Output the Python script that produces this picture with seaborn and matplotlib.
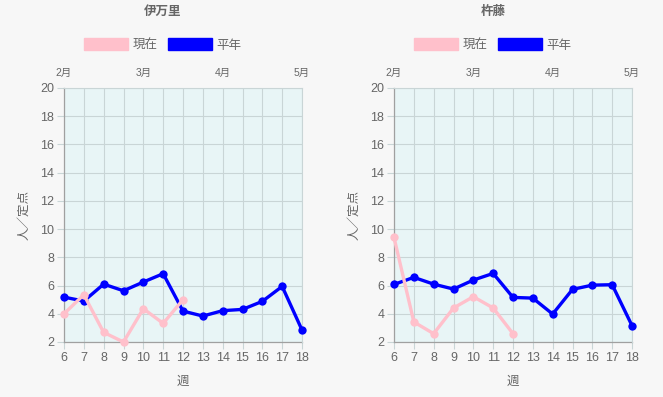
import pandas as pd
import seaborn as sns
import matplotlib.pyplot as plt
from matplotlib.patches import Patch

# Data
weeks = [6, 7, 8, 9, 10, 11, 12, 13, 14, 15, 16, 17, 18]
month_ticks = [6, 10, 14, 18]
month_labels = ['2月', '3月', '4月', '5月']
regions = ['伊万里', '杵藤']

imari_now = [4.0, 5.35, 2.68, 2.0, 4.36, 3.32, 5.0]
imari_avg = [5.18, 4.90, 6.10, 5.63, 6.25, 6.84, 4.19, 3.84, 4.22, 4.31, 4.88, 5.94, 2.85]
kitou_now = [9.41, 3.42, 2.59, 4.41, 5.21, 4.41, 2.59]
kitou_avg = [6.08, 6.58, 6.10, 5.75, 6.39, 6.86, 5.16, 5.11, 3.98, 5.73, 6.03, 6.06, 3.16]

series = {
    '伊万里': {'現在': imari_now, '平年': imari_avg},
    '杵藤': {'現在': kitou_now, '平年': kitou_avg},
}
colors = {'現在': '#ffc0cb', '平年': '#0000ff'}

sns.set_style('white')
plt.rcParams['font.family'] = ['Liberation Sans', 'Noto Sans CJK JP', 'DejaVu Sans']
text_col = '#666666'
grid_col = '#c9d5d6'

fig = plt.figure(figsize=(6.63, 3.97), dpi=100)
fig.patch.set_facecolor('#f7f7f7')

W, H = 663, 397
for i, name in enumerate(regions):
    off = i * 330
    ax = fig.add_axes([(64 + off) / W, 1 - 342 / H, 238 / W, 254 / H])
    ax.set_facecolor('#e8f5f6')

    rows = []
    for s, vals in series[name].items():
        for w, v in zip(weeks, vals):
            rows.append({'週': w, '値': v, '系列': s})
    df = pd.DataFrame(rows)

    # 平年 drawn first so 現在 sits on top
    sns.lineplot(data=df, x='週', y='値', hue='系列', hue_order=['平年', '現在'],
                 palette=colors, marker='o', markersize=6, markeredgewidth=0,
                 linewidth=2.4, legend=False, ax=ax, zorder=3)
    for ln in ax.lines:
        ln.set_clip_on(False)

    ax.set_xlim(6, 18)
    ax.set_ylim(2, 20)
    ax.set_xticks(weeks)
    ax.set_yticks(range(2, 21, 2))
    ax.grid(True, color=grid_col, linewidth=0.8)
    ax.set_axisbelow(True)
    for sp in ['top', 'right']:
        ax.spines[sp].set_color(grid_col)
        ax.spines[sp].set_linewidth(0.8)
    for sp in ['left', 'bottom']:
        ax.spines[sp].set_color('#a0a0a0')
        ax.spines[sp].set_linewidth(0.9)
        ax.spines[sp].set_zorder(1)
    ax.tick_params(axis='both', colors=grid_col, labelcolor=text_col, labelsize=9,
                   length=5, width=0.8, pad=2, left=True, bottom=True)

    ax.set_xlabel('週', color=text_col, fontsize=9)
    ax.set_ylabel('人／定点', color=text_col, fontsize=9)
    ax.xaxis.set_label_coords(0.5, -0.135)
    ax.yaxis.set_label_coords(-0.14, 0.5)

    # month axis on top
    top = ax.twiny()
    top.set_xlim(6, 18)
    top.set_xticks(month_ticks)
    top.set_xticklabels(month_labels)
    top.tick_params(axis='x', length=0, pad=7, labelsize=7.5, labelcolor=text_col)
    for sp in top.spines.values():
        sp.set_visible(False)

    cx = (163 + off) / W
    fig.text(cx, 1 - 12 / H, name, ha='center', va='center', fontsize=9,
             fontweight='bold', color=text_col)
    handles = [Patch(facecolor=colors[k], edgecolor=colors[k], label=k) for k in ['現在', '平年']]
    fig.legend(handles=handles, loc='center', bbox_to_anchor=(cx, 1 - 45 / H), ncol=2,
               frameon=False, fontsize=9, labelcolor=text_col, handlelength=3.5,
               handleheight=1.1, handletextpad=0.4, columnspacing=0.8)

fig.savefig('out.png', dpi=100, facecolor=fig.get_facecolor())
